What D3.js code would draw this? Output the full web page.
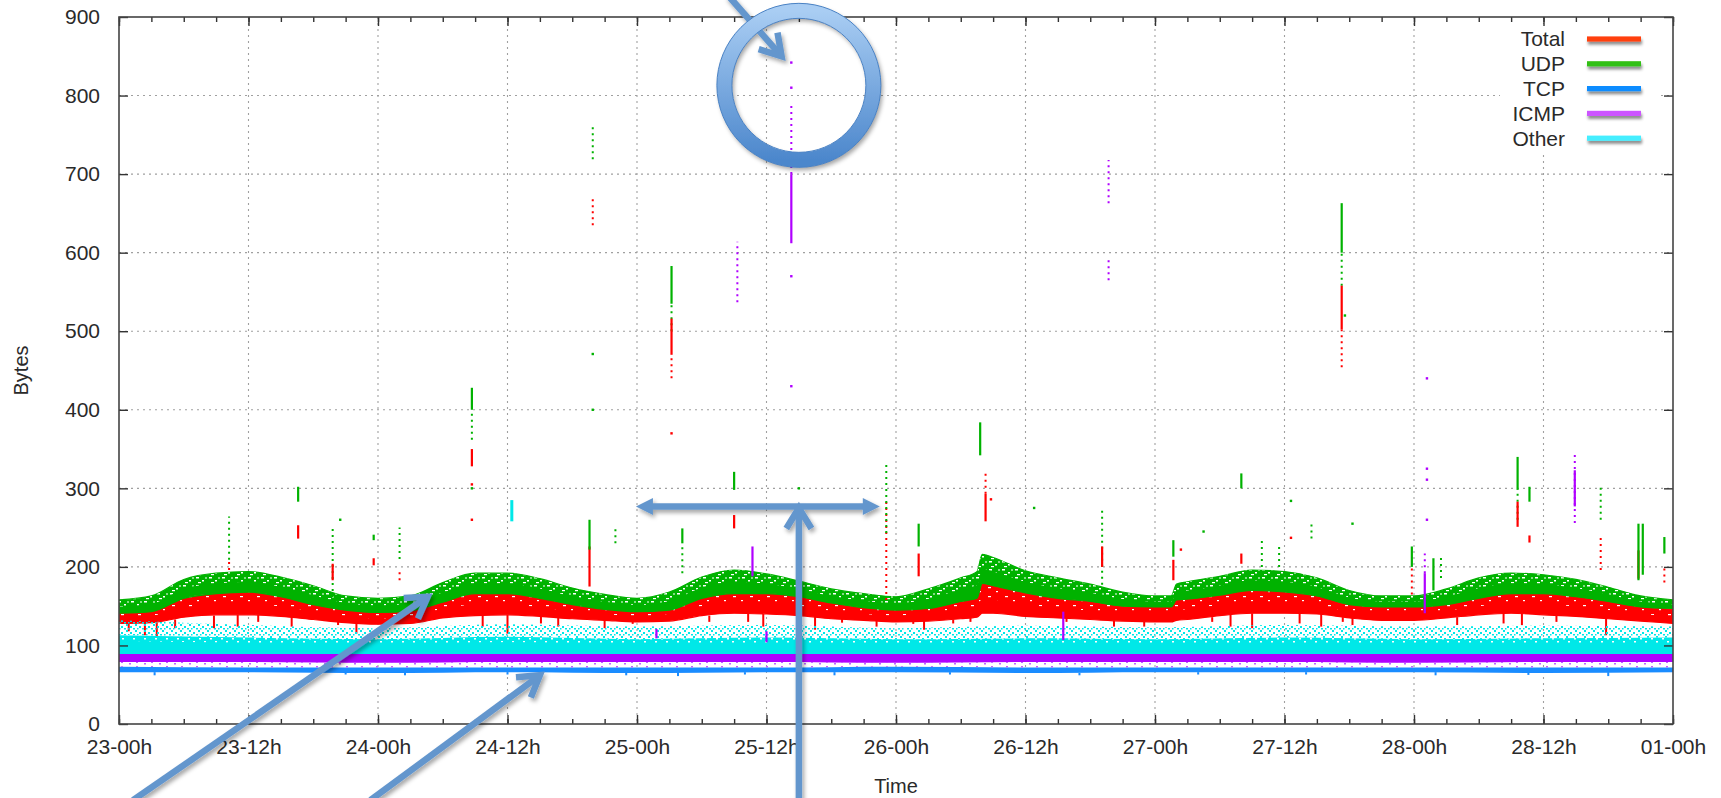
<!DOCTYPE html>
<html>
<head>
<meta charset="utf-8">
<script src="https://cdn.jsdelivr.net/npm/d3@7"></script>
<style>
  html, body { margin: 0; padding: 0; background: #fff; }
  svg { display: block; font-family: "Liberation Sans", Arial, sans-serif; }
</style>
</head>
<body>
<div id="chart"></div>
<script>
// ---- values (hours since 23-00h, bytes) ----
const hours = [0, 3, 6, 9, 12, 15, 18, 21, 24, 27, 30, 33, 36, 39, 42, 45, 48, 51, 54, 57,
    60, 63, 66, 69, 72, 75, 78, 79.5, 80, 81, 84, 87, 90, 93, 96, 97.5, 98, 99, 102, 105,
    108, 111, 114, 117, 120, 123, 126, 129, 132, 135, 138, 141, 144];

const udpHi = [158, 163, 184, 192, 194, 187, 176, 163, 160, 163, 180, 192, 192, 185, 173, 165, 160, 168, 187, 196,
    191, 182, 172, 166, 162, 172, 186, 194, 216, 212, 195, 186, 178, 168, 163, 163, 178, 181, 188, 196,
    194, 186, 170, 163, 163, 172, 186, 192, 190, 184, 174, 163, 158];
const udpLo = [141, 143, 160, 166, 168, 162, 152, 145, 142, 144, 155, 166, 166, 160, 152, 146, 143, 145, 160, 166,
    166, 162, 154, 148, 145, 147, 156, 160, 179, 176, 167, 160, 156, 150, 149, 149, 158, 159, 164, 170,
    168, 163, 152, 149, 149, 152, 160, 166, 166, 162, 156, 149, 147];
const totalHi = [141, 146, 160, 166, 168, 162, 154, 146, 142, 146, 158, 166, 166, 160, 153, 148, 145, 150, 162, 166,
    166, 162, 154, 148, 146, 152, 160, 163, 179, 176, 167, 160, 156, 150, 150, 150, 158, 159, 165, 170,
    168, 163, 152, 149, 149, 154, 161, 166, 166, 162, 156, 149, 146];
const totalLo = [128, 129, 136, 139, 139, 137, 133, 129, 127, 128, 135, 138, 139, 137, 134, 132, 130, 131, 138, 141,
    140, 138, 134, 132, 130, 131, 134, 136, 141, 141, 137, 135, 133, 131, 130, 130, 132, 133, 138, 141,
    141, 140, 135, 132, 132, 135, 139, 141, 139, 137, 134, 131, 128];

// the flat series only need a coarse sampling
const flatHours = [0, 12, 24, 36, 48, 60, 72, 84, 96, 108, 120, 132, 144];
const tcpLo = [66, 66, 65, 66, 65, 66, 66, 65, 66, 66, 66, 65, 66];
const tcpHi = [73, 72, 72, 72, 72, 72, 73, 72, 72, 72, 72, 72, 72];
const icmpLo = [79, 79, 78, 79, 79, 79, 78, 79, 79, 79, 78, 79, 79];
const icmpHi = [89, 89, 89, 89, 89, 89, 89, 89, 89, 89, 89, 89, 89];
const otherLo = [89, 89, 89, 89, 89, 89, 89, 89, 89, 89, 89, 89, 89];
const otherHi = [113, 110, 108, 111, 108, 110, 108, 109, 108, 110, 108, 109, 110];
const otherHalo = [132, 126, 122, 127, 124, 126, 122, 125, 123, 126, 124, 125, 124];

// bursts: [hour, low, high]; trails are the sparse dotted columns
const udpBursts = [[16.6, 283, 302], [23.6, 234, 241], [32.7, 400, 428], [43.6, 222, 260], [51.2, 535, 583],
    [52.2, 230, 249], [57.0, 298, 321], [74.1, 226, 255], [79.8, 342, 384], [97.7, 213, 234], [104.0, 300, 319],
    [113.3, 600, 663], [119.8, 200, 226], [121.8, 170, 211], [129.6, 298, 340], [130.7, 283, 302],
    [140.8, 183, 255], [141.2, 190, 255], [143.2, 217, 238]];
const udpTrails = [[10.2, 209, 264], [19.8, 154, 251], [26.0, 210, 250], [32.7, 362, 400], [43.9, 719, 760],
    [46.0, 230, 250], [51.2, 500, 535], [52.2, 192, 230], [71.1, 243, 332], [91.1, 162, 272], [105.9, 200, 238],
    [107.5, 200, 230], [110.5, 236, 254], [113.3, 558, 600], [122.5, 186, 213], [129.6, 260, 298], [137.3, 260, 305]];
const udpDots = [[43.9, 471], [43.9, 400], [32.7, 300], [63.0, 300], [84.8, 275], [100.5, 245], [108.6, 284],
    [114.3, 255], [20.5, 260], [113.6, 520]];

const totalBursts = [[16.6, 236, 253], [19.8, 183, 204], [23.6, 202, 211], [32.7, 328, 350], [43.6, 175, 226],
    [51.2, 470, 516], [57.0, 249, 266], [74.1, 188, 217], [80.3, 258, 293], [91.1, 200, 226], [97.7, 183, 209],
    [104.0, 204, 217], [113.3, 502, 558], [129.6, 251, 283], [130.7, 231, 240], [140.8, 185, 221]];
const totalTrails = [[10.2, 196, 209], [26.0, 183, 196], [43.9, 635, 670], [51.2, 440, 470], [71.1, 158, 285],
    [80.3, 293, 320], [113.3, 454, 502], [119.8, 165, 200], [137.3, 196, 240], [143.2, 180, 200]];
const totalDips = [[0.9, 118, 128], [2.4, 113, 129], [3.5, 111, 129], [5.2, 122, 133], [8.8, 122, 138],
    [11.0, 124, 139], [12.9, 130, 139], [16.0, 124, 137], [20.3, 126, 131], [22.0, 115, 129], [33.7, 124, 138],
    [36.0, 115, 139], [39.1, 128, 137], [40.7, 124, 136], [45.0, 122, 132], [47.6, 131, 130], [54.7, 130, 138],
    [58.3, 130, 141], [59.7, 124, 140], [64.5, 120, 138], [67.0, 129, 134], [70.2, 124, 131], [73.6, 129, 130],
    [74.6, 120, 131], [77.3, 128, 133], [78.9, 130, 135], [87.8, 130, 135], [92.2, 124, 132], [95.0, 124, 130],
    [101.3, 130, 136], [103.0, 124, 139], [105.0, 122, 141], [109.4, 128, 141], [111.4, 124, 140], [113.4, 130, 136],
    [114.3, 126, 135], [124.0, 126, 136], [128.3, 128, 141], [130.0, 126, 141], [133.2, 130, 139], [137.8, 113, 136]];
const totalDots = [[51.2, 370], [32.7, 305], [32.7, 260], [80.8, 286], [108.6, 237], [98.4, 222]];

const tcpDips = [[3.3, 62, 66], [21.0, 63, 66], [26.5, 62, 66], [36.0, 63, 66], [47.0, 62, 65], [51.8, 61, 66],
    [58.0, 63, 66], [66.3, 62, 66], [77.0, 63, 66], [89.0, 62, 65], [100.0, 63, 66], [110.0, 63, 66],
    [122.0, 62, 66], [130.6, 63, 65], [138.0, 61, 66]];

const icmpBursts = [[49.8, 109, 121], [58.7, 188, 226], [60.0, 104, 118], [62.3, 612, 700], [87.5, 107, 143],
    [121.0, 141, 192], [134.9, 277, 323]];
const icmpTrails = [[57.3, 537, 614], [62.3, 700, 790], [91.7, 663, 718], [91.7, 565, 593], [121.0, 192, 217],
    [134.9, 256, 344]];
const icmpDots = [[62.3, 842], [62.3, 810], [62.3, 570], [62.3, 430], [121.2, 325], [121.2, 311], [121.2, 260],
    [121.2, 440]];

const otherBursts = [[36.4, 258, 285]];

// axis ticks
const xTickHours = [0, 12, 24, 36, 48, 60, 72, 84, 96, 108, 120, 132, 144];
const xTickLabels = ["23-00h", "23-12h", "24-00h", "24-12h", "25-00h", "25-12h", "26-00h",
    "26-12h", "27-00h", "27-12h", "28-00h", "28-12h", "01-00h"];
const yTicks = [0, 100, 200, 300, 400, 500, 600, 700, 800, 900];

const seriesNames = ["Total", "UDP", "TCP", "ICMP", "Other"];
const pointColors = ["#ff0000", "#00b200", "#1a8cff", "#b000ff", "#00e8e8"];
const legendColors = ["#ff4010", "#33c012", "#0a8cff", "#cc55ff", "#44eeff"];

// call-outs pasted over the chart, in data units: [hourFrom, bytesFrom, hourTo, bytesTo]
const pointerArrows = [[1.3, -97, 28.6, 162], [23.3, -97, 39.0, 62], [63.0, -97, 63.0, 275], [56.4, 928, 61.4, 850]];
const spanArrow = [47.9, 70.5, 277];
const ringCenter = [63.0, 813];

// ---- layout ----
const W = 1721, H = 798;
const plot = { left: 119, right: 1673, top: 17, bottom: 724 };

const x = d3.scaleLinear().domain([0, 144]).range([plot.left, plot.right]);
const y = d3.scaleLinear().domain([0, 900]).range([plot.bottom, plot.top]);

const svg = d3.select("#chart").append("svg").attr("width", W).attr("height", H);
const defs = svg.append("defs");

defs.append("clipPath").attr("id", "plotClip").append("rect")
    .attr("x", plot.left).attr("y", plot.top)
    .attr("width", plot.right - plot.left).attr("height", plot.bottom - plot.top);

// speckle textures, to imitate the scattered look of the raw points
function speckle(id, w, h, color, cells) {
    const p = defs.append("pattern").attr("id", id).attr("patternUnits", "userSpaceOnUse")
        .attr("width", w).attr("height", h);
    cells.forEach(c => p.append("rect").attr("x", c[0]).attr("y", c[1])
        .attr("width", c[2]).attr("height", c[3]).attr("fill", color));
}
speckle("whiteSpeck", 13, 8, "#fff", [[1, 1, 3, 1.5], [7, 4, 2, 1.5], [10, 1.5, 2, 1], [3, 6, 3, 1.2]]);
speckle("whiteSpeckThin", 17, 9, "#fff", [[2, 2, 3, 1.2], [10, 6, 2, 1.2]]);
speckle("whiteSpeckCyan", 11, 7, "#fff", [[1, 1, 2, 1.5], [6, 4, 2, 1.5]]);
speckle("cyanSpeck", 9, 6, "#00e8e8", [[0, 0, 2, 2], [4, 2, 2, 2], [7, 4, 2, 1.5], [2, 4, 1.5, 1.5]]);
speckle("purpleSpeck", 15, 5, "#c060ff", [[1, 1, 2, 2], [9, 3, 2, 1.5]]);

const shadow = defs.append("filter").attr("id", "shadow")
    .attr("x", "-20%").attr("y", "-20%").attr("width", "140%").attr("height", "140%");
shadow.append("feDropShadow").attr("dx", 2).attr("dy", 3).attr("stdDeviation", 2.2)
    .attr("flood-color", "#000").attr("flood-opacity", 0.35);

const legShadow = defs.append("filter").attr("id", "legShadow")
    .attr("x", "-10%").attr("y", "-80%").attr("width", "130%").attr("height", "300%");
legShadow.append("feDropShadow").attr("dx", 1).attr("dy", 3).attr("stdDeviation", 1.5)
    .attr("flood-color", "#000").attr("flood-opacity", 0.45);

const ringGrad = defs.append("linearGradient").attr("id", "ringGrad")
    .attr("x1", 0).attr("y1", 0).attr("x2", 0).attr("y2", 1);
ringGrad.append("stop").attr("offset", "0%").attr("stop-color", "#a9cdf3");
ringGrad.append("stop").attr("offset", "100%").attr("stop-color", "#4c87cc");

// ---- grid ----
const grid = svg.append("g")
    .attr("stroke", "#a0a0a0").attr("stroke-width", 1.1).attr("stroke-dasharray", "2,4");
grid.selectAll("line.v").data(xTickHours.slice(1, -1)).join("line")
    .attr("x1", d => x(d)).attr("x2", d => x(d)).attr("y1", plot.top).attr("y2", plot.bottom);
grid.selectAll("line.h").data(yTicks.slice(1, -1)).join("line")
    .attr("y1", d => y(d)).attr("y2", d => y(d)).attr("x1", plot.left).attr("x2", plot.right);

// ---- data ----
const data = svg.append("g").attr("clip-path", "url(#plotClip)");

function band(xs, lo, hi, fill, edge) {
    const area = d3.area()
        .x((d, i) => x(xs[i]))
        .y0((d, i) => y(lo[i]))
        .y1((d, i) => y(hi[i]))
        .curve(d3.curveMonotoneX);
    const p = data.append("path").datum(xs).attr("d", area).attr("fill", fill);
    if (edge) p.attr("stroke", edge).attr("stroke-width", 1.2);
}

function bursts(rows, color, w) {
    data.append("g").selectAll("rect").data(rows).join("rect")
        .attr("x", d => x(d[0]) - w / 2).attr("width", w)
        .attr("y", d => y(d[2]))
        .attr("height", d => Math.max(2, y(d[1]) - y(d[2])))
        .attr("fill", color);
}

function trails(rows, color) {
    data.append("g").selectAll("line").data(rows).join("line")
        .attr("x1", d => x(d[0])).attr("x2", d => x(d[0]))
        .attr("y1", d => y(d[1])).attr("y2", d => y(d[2]))
        .attr("stroke", color).attr("stroke-width", 2).attr("stroke-dasharray", "2,4");
}

function dots(rows, color) {
    data.append("g").selectAll("rect").data(rows).join("rect")
        .attr("x", d => x(d[0]) - 1.2).attr("y", d => y(d[1]) - 1.2)
        .attr("width", 2.4).attr("height", 2.4).attr("fill", color);
}

const mid = (a, b) => a.map((v, i) => (v + b[i]) / 2);
const below = (a, d) => a.map(v => v - d);

// Total
band(hours, totalLo, totalHi, pointColors[0], pointColors[0]);
band(hours, mid(totalLo, totalHi), totalHi, "url(#whiteSpeckThin)");
bursts(totalDips, pointColors[0], 2);
// UDP
band(hours, udpLo, udpHi, pointColors[1], pointColors[1]);
band(hours, mid(udpLo, udpHi), udpHi, "url(#whiteSpeck)");
// TCP
band(flatHours, tcpLo, tcpHi, pointColors[2]);
bursts(tcpDips, pointColors[2], 2);
// Other
band(flatHours, otherHi, otherHalo, "url(#cyanSpeck)");
band(flatHours, otherLo, otherHi, pointColors[4]);
band(flatHours, below(otherHi, 7), otherHi, "url(#whiteSpeckCyan)");
// ICMP
band(flatHours, tcpHi, icmpLo, "url(#purpleSpeck)");
band(flatHours, icmpLo, icmpHi, pointColors[3]);

trails(totalTrails, pointColors[0]);
trails(udpTrails, pointColors[1]);
trails(icmpTrails, pointColors[3]);
bursts(totalBursts, pointColors[0], 2.2);
bursts(udpBursts, pointColors[1], 2.2);
bursts(icmpBursts, pointColors[3], 2.2);
bursts(otherBursts, pointColors[4], 3);
dots(totalDots, pointColors[0]);
dots(udpDots, pointColors[1]);
dots(icmpDots, pointColors[3]);

// ---- legend ----
svg.append("rect").attr("x", 1500).attr("y", 24).attr("width", 158).attr("height", 128).attr("fill", "#fff");
const legend = svg.append("g").attr("transform", "translate(1565,39)");
const entry = legend.selectAll("g").data(seriesNames).join("g")
    .attr("transform", (d, i) => `translate(0,${i * 24.8})`);
entry.append("text")
    .attr("text-anchor", "end").attr("dy", "0.35em")
    .attr("font-size", 21).attr("fill", "#2a2a2a")
    .text(d => d);
entry.append("rect")
    .attr("x", 22).attr("y", -2.6).attr("width", 54).attr("height", 5.2)
    .attr("fill", (d, i) => legendColors[i])
    .attr("filter", "url(#legShadow)");

// ---- axes ----
function styleAxis(g) {
    g.select(".domain").remove();
    g.selectAll(".tick line").attr("stroke", "#333").attr("stroke-width", 1.4);
    g.selectAll(".tick text").attr("fill", "#2a2a2a").attr("font-size", 21)
        .attr("font-family", "'Liberation Sans', Arial, sans-serif");
}

const minorHours = d3.range(0, 145, 3);

svg.append("g").attr("transform", `translate(0,${plot.bottom})`)
    .call(d3.axisBottom(x).tickValues(minorHours).tickSize(-5).tickFormat(""))
    .call(styleAxis);
svg.append("g").attr("transform", `translate(0,${plot.top})`)
    .call(d3.axisTop(x).tickValues(minorHours).tickSize(-5).tickFormat(""))
    .call(styleAxis);
svg.append("g").attr("transform", `translate(0,${plot.bottom})`)
    .call(d3.axisBottom(x).tickValues(xTickHours).tickSize(-9).tickPadding(15)
        .tickFormat((d, i) => xTickLabels[i]))
    .call(styleAxis);
svg.append("g").attr("transform", `translate(0,${plot.top})`)
    .call(d3.axisTop(x).tickValues(xTickHours).tickSize(-9).tickFormat(""))
    .call(styleAxis);
svg.append("g").attr("transform", `translate(${plot.left},0)`)
    .call(d3.axisLeft(y).tickValues(yTicks).tickSize(-9).tickPadding(19))
    .call(styleAxis);
svg.append("g").attr("transform", `translate(${plot.right},0)`)
    .call(d3.axisRight(y).tickValues(yTicks).tickSize(-9).tickFormat(""))
    .call(styleAxis);

svg.append("rect")
    .attr("x", plot.left).attr("y", plot.top)
    .attr("width", plot.right - plot.left).attr("height", plot.bottom - plot.top)
    .attr("fill", "none").attr("stroke", "#444").attr("stroke-width", 1.6);

svg.append("text")
    .attr("transform", `translate(28,${(plot.top + plot.bottom) / 2}) rotate(-90)`)
    .attr("text-anchor", "middle").attr("font-size", 20).attr("fill", "#2a2a2a")
    .text("Bytes");
svg.append("text")
    .attr("x", (plot.left + plot.right) / 2).attr("y", 793)
    .attr("text-anchor", "middle").attr("font-size", 20).attr("fill", "#2a2a2a")
    .text("Time");

// ---- call-outs ----
const callouts = svg.append("g").attr("filter", "url(#shadow)");
const arrowBlue = "#6496cd";

function chevron(x1, y1, x2, y2, len, spread) {
    const a = Math.atan2(y2 - y1, x2 - x1);
    const p1 = [x2 - len * Math.cos(a - spread), y2 - len * Math.sin(a - spread)];
    const p2 = [x2 - len * Math.cos(a + spread), y2 - len * Math.sin(a + spread)];
    return `M${p1[0]},${p1[1]}L${x2},${y2}L${p2[0]},${p2[1]}`;
}

pointerArrows.forEach(a => {
    const x1 = x(a[0]), y1 = y(a[1]), x2 = x(a[2]), y2 = y(a[3]);
    callouts.append("line")
        .attr("x1", x1).attr("y1", y1).attr("x2", x2).attr("y2", y2)
        .attr("stroke", arrowBlue).attr("stroke-width", 6.5);
    callouts.append("path")
        .attr("d", chevron(x1, y1, x2, y2, 24, 0.55))
        .attr("fill", "none").attr("stroke", arrowBlue).attr("stroke-width", 6.5)
        .attr("stroke-linejoin", "miter");
});

// double-headed span arrow
{
    const xa = x(spanArrow[0]), xb = x(spanArrow[1]), ys = y(spanArrow[2]);
    callouts.append("line")
        .attr("x1", xa + 10).attr("x2", xb - 10).attr("y1", ys).attr("y2", ys)
        .attr("stroke", arrowBlue).attr("stroke-width", 6.5);
    callouts.append("path")
        .attr("d", `M${xa},${ys}L${xa + 17},${ys - 8.5}L${xa + 17},${ys + 8.5}Z`)
        .attr("fill", arrowBlue);
    callouts.append("path")
        .attr("d", `M${xb},${ys}L${xb - 17},${ys - 8.5}L${xb - 17},${ys + 8.5}Z`)
        .attr("fill", arrowBlue);
}

// ring round the ICMP outlier
{
    const cx = x(ringCenter[0]), cy = y(ringCenter[1]);
    callouts.append("circle").attr("cx", cx).attr("cy", cy).attr("r", 74.5)
        .attr("fill", "none").attr("stroke", "url(#ringGrad)").attr("stroke-width", 15);
    svg.append("circle").attr("cx", cx).attr("cy", cy).attr("r", 82)
        .attr("fill", "none").attr("stroke", "#4a82c4").attr("stroke-width", 1);
    svg.append("circle").attr("cx", cx).attr("cy", cy).attr("r", 67)
        .attr("fill", "none").attr("stroke", "#4a82c4").attr("stroke-width", 1);
}
</script>
</body>
</html>
